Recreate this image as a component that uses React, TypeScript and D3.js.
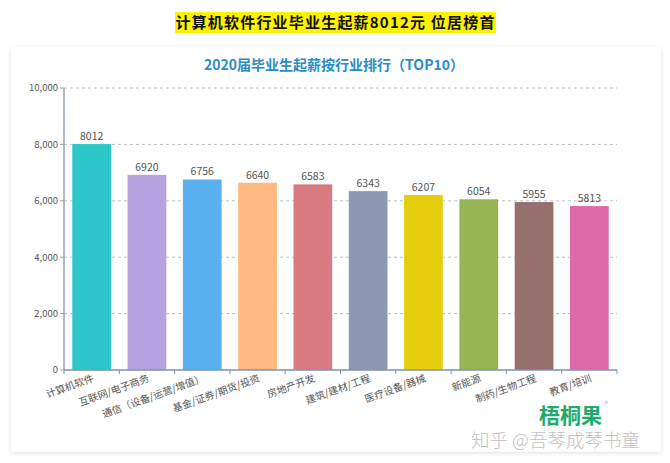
import React from "react";
import * as d3 from "d3";

// data
const industries = [
  "计算机软件",
  "互联网/电子商务",
  "通信（设备/运营/增值）",
  "基金/证券/期货/投资",
  "房地产开发",
  "建筑/建材/工程",
  "医疗设备/器械",
  "新能源",
  "制药/生物工程",
  "教育/培训",
];
const salaries = [8012, 6920, 6756, 6640, 6583, 6343, 6207, 6054, 5955, 5813];
const barColors = [
  "#2ec7c9", "#b6a2de", "#5ab1ef", "#ffb980", "#d87a80",
  "#8d98b3", "#e5cf0d", "#97b552", "#95706d", "#dc69aa",
];
const yTicks = [0, 2000, 4000, 6000, 8000, 10000];

const W = 670;
const H = 463;
const FONT = "'Noto Sans CJK SC', 'Noto Sans', sans-serif";

export default function App() {
  const left = 64, right = 617, top = 88, bottom = 370;

  const x = d3.scaleBand<string>().domain(industries).range([left, right]).padding(0);
  const y = d3.scaleLinear().domain([0, 10000]).range([bottom, top]);
  const barW = x.bandwidth() * 0.7;
  const fmt = d3.format(",");

  // band boundaries for the x tick marks
  const bounds = industries.map((d) => x(d)!).concat([right]);

  return (
    <svg width={W} height={H} style={{ position: "absolute", left: 0, top: 0, fontFamily: FONT }}>
      <defs>
        <filter id="shadow" x="-5%" y="-5%" width="110%" height="110%">
          <feDropShadow dx="0" dy="1" stdDeviation="2" floodColor="#000" floodOpacity="0.12" />
        </filter>
      </defs>
      <rect width={W} height={H} fill="#fff" />

      {/* headline banner */}
      <rect x={175} y={12} width={321} height={21} fill="#fff200" />
      <text x={335.5} y={28} textAnchor="middle" fontSize={15} fontWeight="bold" letterSpacing={1.2} fill="#111">
        计算机软件行业毕业生起薪8012元 位居榜首
      </text>

      {/* card */}
      <rect x={11} y={47} width={650} height={405} rx={3} fill="#fff" filter="url(#shadow)" />

      <text x={334} y={70} textAnchor="middle" fontSize={14} fontWeight="bold" fill="#2b8cc4">
        2020届毕业生起薪按行业排行（TOP10）
      </text>

      {/* grid */}
      {yTicks.filter((t) => t > 0).map((t) => (
        <line key={t} x1={left} x2={right} y1={y(t)} y2={y(t)} stroke="#b8c0c8" strokeDasharray="3,3" />
      ))}

      {/* bars */}
      {industries.map((d, i) => {
        const cx = x(d)! + x.bandwidth() / 2;
        return (
          <g key={d}>
            <rect x={cx - barW / 2} y={y(salaries[i])} width={barW} height={bottom - y(salaries[i])} fill={barColors[i]} />
            <text x={cx} y={y(salaries[i]) - 4} textAnchor="middle" fontSize={10.5} fill="#555">
              {salaries[i]}
            </text>
          </g>
        );
      })}

      {/* y axis */}
      <line x1={left} x2={left} y1={top} y2={bottom} stroke="#95a3b3" strokeWidth={1.5} />
      {yTicks.map((t) => (
        <g key={t}>
          <line x1={left - 4} x2={left} y1={y(t)} y2={y(t)} stroke="#95a3b3" />
          <text x={left - 6} y={y(t)} dy="0.35em" textAnchor="end" fontSize={9.5} fill="#555">
            {fmt(t)}
          </text>
        </g>
      ))}

      {/* x axis */}
      <line x1={left} x2={right} y1={bottom} y2={bottom} stroke="#7f93a8" strokeWidth={1.5} />
      {bounds.map((b, i) => (
        <line key={i} x1={b} x2={b} y1={bottom} y2={bottom + 4} stroke="#7f93a8" />
      ))}
      {industries.map((d) => {
        const cx = x(d)! + x.bandwidth() / 2;
        return (
          <text key={d} transform={`translate(${cx},${bottom + 3}) rotate(-20)`} dy="0.85em" textAnchor="end" fontSize={10} fill="#555">
            {d}
          </text>
        );
      })}

      {/* logo + watermark */}
      <text x={539} y={423} fontSize={21} fontWeight="bold" fill="#1fa96b">梧桐果</text>
      <text x={605} y={406} fontSize={6} fill="#999">®</text>
      <text x={471} y={447} fontSize={18.5} fill="#aaa" fillOpacity={0.75} fontWeight={300}>
        知乎 @吾琴成琴书童
      </text>
    </svg>
  );
}
